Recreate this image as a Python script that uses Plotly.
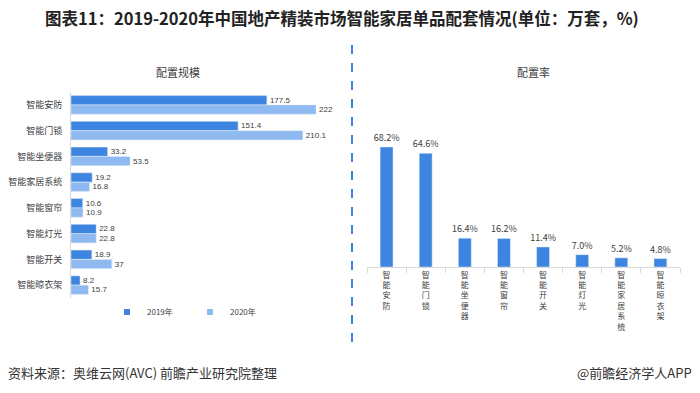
import plotly.graph_objects as go

# Data
scale_categories = ["智能安防", "智能门锁", "智能坐便器", "智能家居系统", "智能窗帘", "智能灯光", "智能开关", "智能晾衣架"]
scale_2019 = [177.5, 151.4, 33.2, 19.2, 10.6, 22.8, 18.9, 8.2]
scale_2020 = [222, 210.1, 53.5, 16.8, 10.9, 22.8, 37, 15.7]
series_names = ["2019年", "2020年"]

rate_categories = ["智能安防", "智能门锁", "智能坐便器", "智能窗帘", "智能开关", "智能灯光", "智能家居系统", "智能晾衣架"]
rate_values = [68.2, 64.6, 16.4, 16.2, 11.4, 7.0, 5.2, 4.8]

DARK = "#3c85e0"
LIGHT = "#8fb9f1"
TXT = "#404040"
FONT = "Noto Sans CJK SC"
NUMFONT = "Liberation Sans"

W, H = 700, 393
def px(x):
    return x / W
def py(y):
    return (H - y) / H

fig = go.Figure()

for vals, name, color, off in [(scale_2019, series_names[0], DARK, -0.36),
                               (scale_2020, series_names[1], LIGHT, 0)]:
    fig.add_trace(go.Bar(
        y=scale_categories, x=vals, orientation="h", name=name, showlegend=False,
        marker_color=color, width=0.36, offset=off,
        text=[f"{v:g}" for v in vals], textposition="outside", constraintext="none",
        textfont=dict(size=8, color=TXT, family=NUMFONT), cliponaxis=False,
        xaxis="x", yaxis="y",
    ))
    fig.add_trace(go.Scatter(
        x=[None], y=[None], mode="markers", name=name,
        marker=dict(symbol="square", size=6, color=color),
        xaxis="x", yaxis="y",
    ))

rate_labels = ["<br>".join(list(c)) for c in rate_categories]
fig.add_trace(go.Bar(
    x=rate_labels, y=rate_values, name="配置率", showlegend=False,
    marker_color=DARK, width=0.33, offset=-0.165,
    text=[f"{v:.1f}%" for v in rate_values], textposition="outside", constraintext="none",
    textfont=dict(size=9, color=TXT, family=FONT), cliponaxis=False,
    xaxis="x2", yaxis="y2",
))

left_max = 240
x_end = 71 + left_max * (316 - 71) / 222
right_max = 80
y_top = 267 - right_max * (267 - 147) / 68.2

fig.update_layout(
    width=W, height=H,
    margin=dict(l=0, r=0, t=0, b=0),
    paper_bgcolor="white", plot_bgcolor="white",
    font=dict(family=FONT, color=TXT, size=9),
    barmode="group",
    showlegend=True,
    legend=dict(orientation="h", x=px(107), y=py(312), xanchor="left", yanchor="middle",
                font=dict(size=8, color=TXT, family=FONT), entrywidth=38, entrywidthmode="pixels",
                itemwidth=30, bgcolor="rgba(0,0,0,0)"),
    xaxis=dict(domain=[px(71), px(x_end)], range=[0, left_max], showgrid=False, showticklabels=False,
               zeroline=False, showline=False, ticks="", anchor="y"),
    yaxis=dict(domain=[py(298), py(92)], autorange="reversed", type="category", showgrid=False,
               showline=True, linecolor="#d9d9d9", linewidth=1, ticks="", ticklen=0,
               ticklabelstandoff=6,
               tickfont=dict(size=9, color=TXT, family=FONT), anchor="x"),
    xaxis2=dict(domain=[px(367), px(680)], type="category", showgrid=False, showline=True,
                linecolor="#d9d9d9", linewidth=1, ticks="outside", tickson="boundaries",
                ticklen=5, tickcolor="#d9d9d9", tickangle=0,
                tickfont=dict(size=8, color=TXT, family=FONT), anchor="y2"),
    yaxis2=dict(domain=[py(267), py(y_top)], range=[0, right_max], showgrid=False,
                showticklabels=False, zeroline=False, showline=False, ticks="", anchor="x2"),
    annotations=[
        dict(text="<b>图表11：2019-2020年中国地产精装市场智能家居单品配套情况(单位：万套，%)</b>",
             x=px(342), y=py(18), xref="paper", yref="paper", showarrow=False,
             font=dict(size=16.5, color="#222222", family=FONT), xanchor="center", yanchor="middle"),
        dict(text="配置规模", x=px(178), y=py(72), xref="paper", yref="paper", showarrow=False,
             font=dict(size=11, color=TXT, family=FONT), xanchor="center", yanchor="middle"),
        dict(text="配置率", x=px(533), y=py(72), xref="paper", yref="paper", showarrow=False,
             font=dict(size=11, color=TXT, family=FONT), xanchor="center", yanchor="middle"),
        dict(text="资料来源：奥维云网(AVC) 前瞻产业研究院整理", x=px(6), y=py(372), xref="paper", yref="paper",
             showarrow=False, font=dict(size=13, color="#333333", family=FONT), xanchor="left", yanchor="middle"),
        dict(text="@前瞻经济学人APP", x=px(694), y=py(372), xref="paper", yref="paper",
             showarrow=False, font=dict(size=13, color="#333333", family=FONT), xanchor="right", yanchor="middle"),
    ],
    shapes=[
        dict(type="line", xref="paper", yref="paper", x0=px(352), x1=px(352), y0=py(45), y1=py(345),
             line=dict(color=DARK, width=2, dash="dash")),
    ],
)

fig.write_html("out.html", config={"displayModeBar": False},
               post_script="document.body.style.margin='0';document.body.style.overflow='hidden';")
